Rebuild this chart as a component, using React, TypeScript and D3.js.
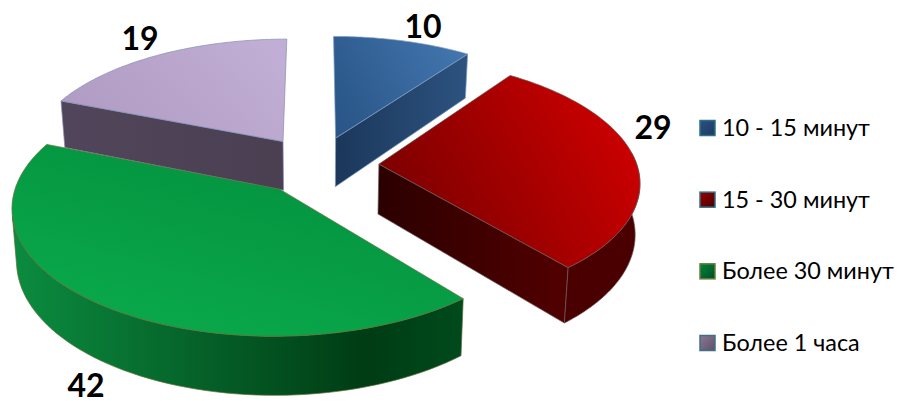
import React from "react";
import * as d3 from "d3";

// Share of respondents per time bracket
const categories = ["10 - 15 минут", "15 - 30 минут", "Более 30 минут", "Более 1 часа"];
const values = [10, 29, 42, 19];

// Per-slice palettes: top face, cut face and rim ramps
const topColors = [
  ["#2a5688", "#4275ae"],
  ["#760000", "#cf0000"],
  ["#0aa94b", "#03903e"],
  ["#b09bc2", "#c1aed4"],
];
const wallColors = [
  ["#1b375a", "#2c5380"],
  ["#2c0000", "#520000"],
  ["#0b8c40", "#003c14"],
  ["#50455a", "#4b4052"],
];
const edgeColors = ["#7f9cc0", "#6a5a5a", "#5f6f38", "#7f8fb5"];
const swatchFill = [
  ["#2b5082", "#1d3a63"],
  ["#9a0000", "#4a0000"],
  ["#00833c", "#004f22"],
  ["#8a7896", "#5f5168"],
];
const swatchBorder = ["#2f7082", "#2f7082", "#6b7c3c", "#3f7082"];

const W = 900;
const H = 401;
const CX = 317;
const CY = 165;
const RADIUS = 258;
const TILT = 0.47;
const CAMERA = 2000;
const EXPLODE = 62;
const DEPTH = 50;
const BASE_SHRINK = 0.985;

type P = [number, number];

// Ground-plane point to screen, with the base ring pulled in and dropped by the extrusion
function project(X: number, Y: number, base: boolean): P {
  const s = CAMERA / (CAMERA + Y);
  const x = CX + X * s;
  const y = CY - TILT * Y * s;
  if (!base) return [x, y];
  return [CX + (x - CX) * BASE_SHRINK, y + DEPTH * s];
}

const pieLayout = d3.pie<number>().sort(null).value((d) => d)(values);
const line = d3.line<P>();
const closed = (pts: P[]) => (line(pts) as string) + "Z";

function sliceGeometry(start: number, end: number) {
  const mid = (start + end) / 2;
  const ox = EXPLODE * Math.sin(mid);
  const oy = EXPLODE * Math.cos(mid);
  const rim = (a: number, base: boolean) =>
    project(ox + RADIUS * Math.sin(a), oy + RADIUS * Math.cos(a), base);
  const arc = (a0: number, a1: number, base: boolean) =>
    d3.range(0, 61).map((i) => rim(a0 + ((a1 - a0) * i) / 60, base));
  const apex = (base: boolean) => project(ox, oy, base);
  return { rim, arc, apex };
}

const deg = Math.PI / 180;
const slices = pieLayout.map((p, i) => {
  const g = sliceGeometry(p.startAngle, p.endAngle);
  const top = closed([g.apex(false), ...g.arc(p.startAngle, p.endAngle, false)]);
  const faces: string[] = [];
  // Rim wall is visible only on the camera-facing half of the circle
  const a0 = Math.max(p.startAngle, 85 * deg);
  const a1 = Math.min(p.endAngle, 258 * deg);
  let rimWall: string | null = null;
  if (a1 > a0) {
    rimWall = closed([...g.arc(a0, a1, false), ...g.arc(a0, a1, true).reverse()]);
  }
  // Cut faces that turn toward the viewer
  if (i === 0 || i === 1) {
    faces.push(
      closed([g.apex(false), g.rim(p.endAngle, false), g.rim(p.endAngle, true), g.apex(true)]),
    );
  }
  if (i === 3) {
    faces.push(
      closed([g.apex(false), g.rim(p.startAngle, false), g.rim(p.startAngle, true), g.apex(true)]),
    );
  }
  return { i, top, faces, rimWall };
});

const labelSpots: P[] = [
  [423, 38],
  [653, 139],
  [86, 397],
  [140, 50],
];

const legendY = d3.scalePoint<string>().domain(categories).range([128, 343]);

// Back-to-front painting order
const paintOrder = [3, 0, 1, 2];

export default function App() {
  return (
    <svg
      width={W}
      height={H}
      viewBox={`0 0 ${W} ${H}`}
      style={{ position: "absolute", left: 0, top: 0, background: "#fff" }}
    >
      <defs>
        {categories.map((_, i) => (
          <React.Fragment key={i}>
            <linearGradient
              id={`top${i}`}
              x1={i === 2 ? 0.3 : 0}
              y1={i === 2 ? 1 : 0.7}
              x2={i === 2 ? 0.85 : 1}
              y2={i === 2 ? 0.1 : 0.3}
            >
              <stop offset="0" stopColor={topColors[i][0]} />
              <stop offset="1" stopColor={topColors[i][1]} />
            </linearGradient>
            <linearGradient id={`wall${i}`} x1="0" y1="0" x2="1" y2="0">
              <stop offset="0" stopColor={wallColors[i][0]} />
              <stop offset={i === 2 ? 0.78 : 1} stopColor={wallColors[i][1]} />
              {i === 2 && <stop offset="1" stopColor="#004a1c" />}
            </linearGradient>
            <linearGradient id={`swatch${i}`} x1="0" y1="0" x2="1" y2="1">
              <stop offset="0" stopColor={swatchFill[i][0]} />
              <stop offset="1" stopColor={swatchFill[i][1]} />
            </linearGradient>
          </React.Fragment>
        ))}
      </defs>

      {paintOrder.map((k) => {
        const s = slices[k];
        return (
          <g key={k} stroke={edgeColors[k]} strokeWidth={0.7} strokeLinejoin="round">
            {s.faces.map((d, j) => (
              <path key={j} d={d} fill={`url(#wall${k})`} />
            ))}
            {s.rimWall && (
              <path d={s.rimWall} fill={k === 1 ? "#4a0000" : `url(#wall${k})`} />
            )}
            <path d={s.top} fill={`url(#top${k})`} />
          </g>
        );
      })}

      {values.map((v, i) => (
        <text
          key={i}
          x={labelSpots[i][0]}
          y={labelSpots[i][1]}
          textAnchor="middle"
          fontFamily="Lato, sans-serif"
          fontWeight={700}
          fontSize={32}
          fill="#000"
        >
          {v}
        </text>
      ))}

      {categories.map((c, i) => {
        const y = legendY(c) as number;
        return (
          <g key={c}>
            <rect
              x={700}
              y={y - 7.5}
              width={15}
              height={15}
              fill={`url(#swatch${i})`}
              stroke={swatchBorder[i]}
              strokeWidth={1.5}
            />
            <text
              x={722}
              y={y + 8}
              fontFamily="Lato, sans-serif"
              fontSize={23.4}
              fill="#000"
            >
              {c}
            </text>
          </g>
        );
      })}
    </svg>
  );
}
